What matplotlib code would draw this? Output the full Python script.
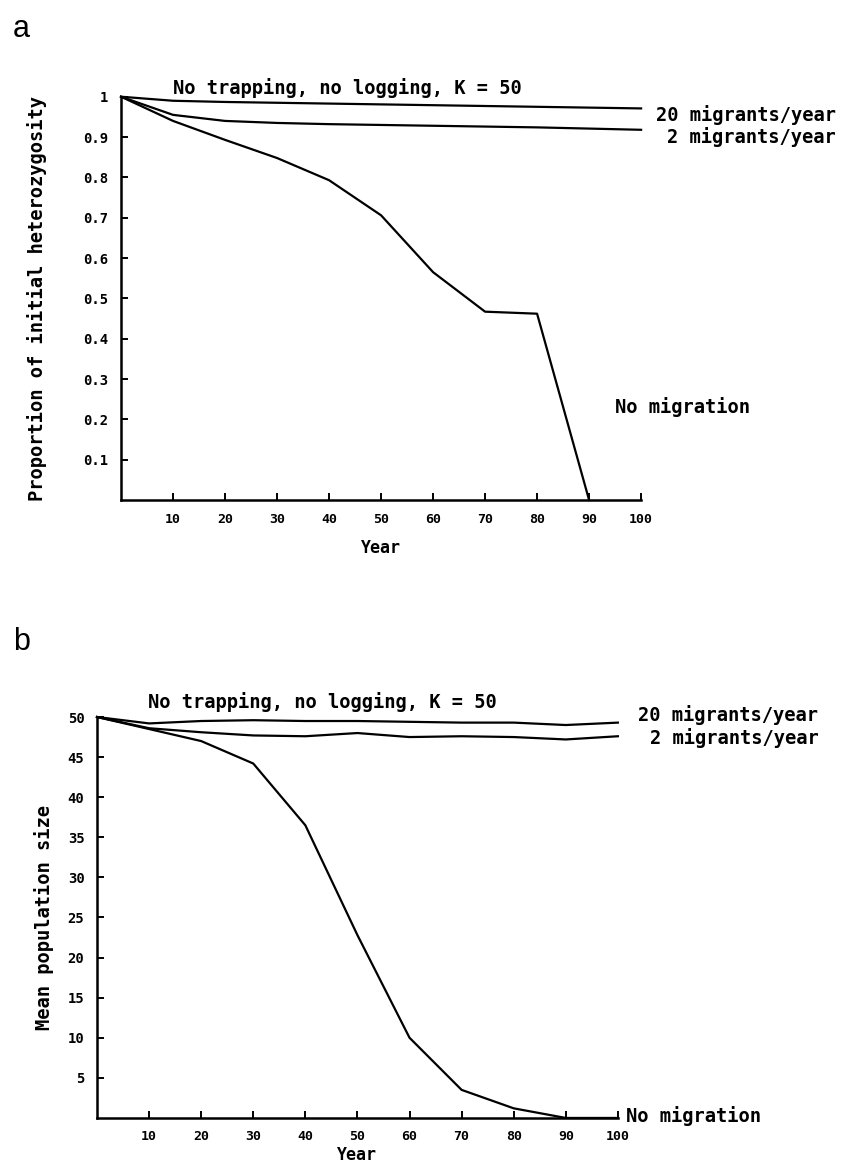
import matplotlib
matplotlib.use('Agg')
import matplotlib.pyplot as plt

# years sampled every 10
years = [0, 10, 20, 30, 40, 50, 60, 70, 80, 90, 100]

# (a) proportion of initial heterozygosity
het_20 = [1.0, 0.99, 0.987, 0.985, 0.983, 0.981, 0.979, 0.977, 0.975, 0.973, 0.971]
het_2 = [1.0, 0.955, 0.94, 0.935, 0.932, 0.93, 0.928, 0.926, 0.924, 0.921, 0.918]
het_0 = [1.0, 0.94, 0.893, 0.848, 0.793, 0.706, 0.565, 0.467, 0.462, 0.0]
het_0_years = years[:10]

# (b) mean population size
pop_20 = [50, 49.2, 49.5, 49.6, 49.5, 49.5, 49.4, 49.3, 49.3, 49.0, 49.3]
pop_2 = [50, 48.6, 48.1, 47.7, 47.6, 48.0, 47.5, 47.6, 47.5, 47.2, 47.6]
pop_0 = [50, 48.5, 47.0, 44.2, 36.5, 22.8, 10.0, 3.5, 1.2, 0.0, 0.0]

het_ticks = [0.1, 0.2, 0.3, 0.4, 0.5, 0.6, 0.7, 0.8, 0.9, 1.0]
het_ticklabels = ['0.1', '0.2', '0.3', '0.4', '0.5', '0.6', '0.7', '0.8', '0.9', '1']
pop_ticks = [5, 10, 15, 20, 25, 30, 35, 40, 45, 50]
year_ticks = [10, 20, 30, 40, 50, 60, 70, 80, 90, 100]

title_text = 'No trapping, no logging, K = 50'

mono = 'DejaVu Sans Mono'
lw = 1.6
big = 13.5

fig = plt.figure(figsize=(8.47, 11.71), dpi=100)
ax1 = fig.add_axes([0.1429, 0.5730, 0.614, 0.3444])
ax2 = fig.add_axes([0.1145, 0.0453, 0.615, 0.3424])


def style_axes(ax, xpad):
    for s in ['top', 'right']:
        ax.spines[s].set_visible(False)
    for s in ['left', 'bottom']:
        ax.spines[s].set_linewidth(1.8)
    ax.tick_params(direction='in', length=5, width=1.4, pad=9)
    ax.set_xlim(0, 100)
    ax.set_xticks(year_ticks)
    ax.set_xticklabels([str(t) for t in year_ticks], family=mono,
                       fontweight='bold', fontsize=9.5)
    ax.set_xlabel('Year', family=mono, fontweight='bold', fontsize=12,
                  labelpad=xpad)


def label(ax, x, y, s, ha='left'):
    ax.text(x, y, s, family=mono, fontweight='bold', fontsize=big,
            va='center', ha=ha, clip_on=False)


# ---- panel a
style_axes(ax1, 10)
ax1.plot(years, het_20, color='black', lw=lw, clip_on=False)
ax1.plot(years, het_2, color='black', lw=lw, clip_on=False)
ax1.plot(het_0_years, het_0, color='black', lw=lw, clip_on=False)
ax1.set_ylim(0, 1.0)
ax1.set_yticks(het_ticks)
ax1.set_yticklabels(het_ticklabels, family=mono, fontweight='bold', fontsize=10)
ax1.set_ylabel('Proportion of initial heterozygosity', family=mono,
               fontweight='bold', fontsize=big, labelpad=26)
label(ax1, 10, 1.022, title_text)
label(ax1, 137.5, 0.955, '20 migrants/year', ha='right')
label(ax1, 137.5, 0.9, '2 migrants/year', ha='right')
label(ax1, 95, 0.23, 'No migration')

# ---- panel b
style_axes(ax2, 2)
ax2.plot(years, pop_20, color='black', lw=lw, clip_on=False)
ax2.plot(years, pop_2, color='black', lw=lw, clip_on=False)
ax2.plot(years, pop_0, color='black', lw=lw, clip_on=False)
ax2.set_ylim(0, 50)
ax2.set_yticks(pop_ticks)
ax2.set_yticklabels([str(t) for t in pop_ticks], family=mono,
                    fontweight='bold', fontsize=10)
ax2.set_ylabel('Mean population size', family=mono, fontweight='bold',
               fontsize=big, labelpad=10)
label(ax2, 9.8, 51.9, title_text)
label(ax2, 138.5, 50.3, '20 migrants/year', ha='right')
label(ax2, 138.5, 47.4, '2 migrants/year', ha='right')
label(ax2, 101.5, 0.3, 'No migration')

# panel letters
fig.text(0.015, 0.975, 'a', fontsize=22, family='Liberation Sans', va='center')
fig.text(0.015, 0.452, 'b', fontsize=22, family='Liberation Sans', va='center')

fig.savefig('out.png', dpi=100, facecolor='white')
